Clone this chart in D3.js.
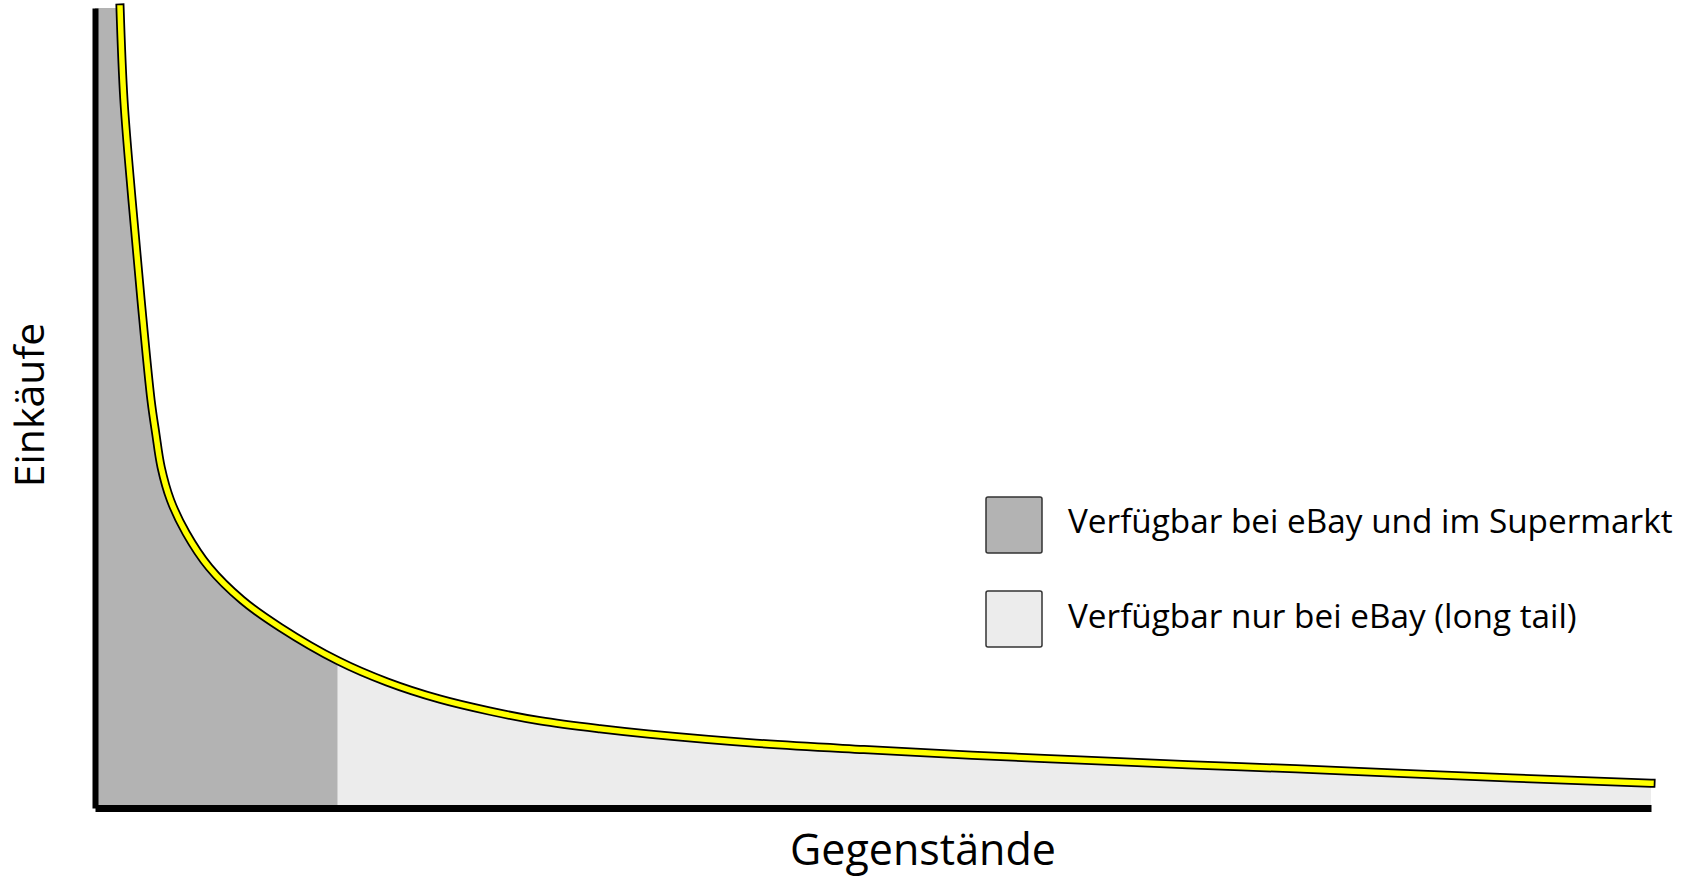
<!DOCTYPE html>
<html lang="de">
<head>
    <meta charset="UTF-8">
    <title>Long Tail – Einkäufe und Gegenstände</title>
    <script src="https://d3js.org/d3.v7.min.js"></script>
    <style>
        body { margin: 0; background: #fff; }
        svg { display: block; }
        text {
            font-family: "Open Sans", "Noto Sans", sans-serif;
            fill: #000;
        }
        .axis path { stroke: #000; }
        .legend text { font-size: 33.3px; }
    </style>
</head>
<body>
    <script>
        const width = 1694;
        const height = 877;

        // curve: items (0-100) vs purchases (0-100)
        const items     = [1.61, 1.86, 2.38, 2.96, 3.6, 3.9, 4.25, 4.85, 5.85, 7.33, 9.45, 11.89, 15.62, 18.77, 22.17, 25.39, 28.6, 32.45, 35.54, 42.48, 49.42, 56.36, 63.3, 70.24, 77.19, 84.13, 91.07, 100];
        const purchases = [100, 88.5, 76, 63.5, 51, 46.9, 42.6, 38.5, 34.4, 30.1, 26, 22.6, 18.4, 15.75, 13.6, 12.1, 10.9, 9.9, 9.25, 8.1, 7.3, 6.6, 6.0, 5.4, 4.9, 4.3, 3.75, 3.1];
        const splitAt = 15.6;   // end of the "head"

        const legendLabels = ["Verfügbar bei eBay und im Supermarkt", "Verfügbar nur bei eBay (long tail)"];
        const legendColors = ["#b3b3b3", "#ececec"];

        const points = items.map((d, i) => ({x: d, y: purchases[i]}));

        const x = d3.scaleLinear().domain([0, 100]).range([95, 1651]);
        const y = d3.scaleLinear().domain([0, 100]).range([808, 8]);

        const svg = d3.select("body").append("svg")
            .attr("width", width)
            .attr("height", height);

        const defs = svg.append("defs");
        defs.append("clipPath").attr("id", "head")
            .append("rect")
            .attr("x", x(0)).attr("y", 0)
            .attr("width", x(splitAt) - x(0)).attr("height", y(0));
        defs.append("clipPath").attr("id", "tail")
            .append("rect")
            .attr("x", x(splitAt)).attr("y", 0)
            .attr("width", x(100) - x(splitAt)).attr("height", y(0));

        const line = d3.line()
            .x(d => x(d.x))
            .y(d => y(d.y))
            .curve(d3.curveCatmullRom.alpha(0.5));

        // fill under the curve, closed along the axes
        const areaPath = line(points) +
            `L${x(100)},${y(0)}L${x(0)},${y(0)}L${x(0)},${y(100)}Z`;

        svg.append("path")
            .attr("d", areaPath)
            .attr("fill", legendColors[0])
            .attr("clip-path", "url(#head)");
        svg.append("path")
            .attr("d", areaPath)
            .attr("fill", legendColors[1])
            .attr("clip-path", "url(#tail)");

        // axes without ticks
        svg.append("g")
            .attr("class", "axis")
            .attr("transform", `translate(0,${y(0)})`)
            .call(d3.axisBottom(x).ticks(0).tickSizeOuter(0))
            .select(".domain")
            .attr("stroke-width", 7);
        svg.append("g")
            .attr("class", "axis")
            .attr("transform", `translate(${x(0)},0)`)
            .call(d3.axisLeft(y).ticks(0).tickSizeOuter(0))
            .select(".domain")
            .attr("stroke-width", 6);

        // yellow curve with black outline
        svg.append("path")
            .datum(points)
            .attr("d", line)
            .attr("fill", "none")
            .attr("stroke", "#000")
            .attr("stroke-width", 9)
            .attr("stroke-linecap", "square");
        svg.append("path")
            .datum(points)
            .attr("d", line)
            .attr("fill", "none")
            .attr("stroke", "#ffff00")
            .attr("stroke-width", 5.5)
            .attr("stroke-linecap", "square");

        // axis titles
        svg.append("text")
            .attr("x", 923)
            .attr("y", 865)
            .attr("text-anchor", "middle")
            .attr("font-size", 43)
            .text("Gegenstände");

        svg.append("text")
            .attr("transform", "translate(44,405) rotate(-90)")
            .attr("text-anchor", "middle")
            .attr("font-size", 41)
            .text("Einkäufe");

        // legend
        const legend = svg.append("g")
            .attr("class", "legend")
            .attr("transform", "translate(986,497)");

        legend.selectAll("rect")
            .data(legendLabels)
            .enter().append("rect")
            .attr("x", 0)
            .attr("y", (d, i) => i * 94)
            .attr("width", 56)
            .attr("height", 56)
            .attr("rx", 2)
            .attr("fill", (d, i) => legendColors[i])
            .attr("stroke", "#333")
            .attr("stroke-width", 1.5);

        legend.selectAll("text")
            .data(legendLabels)
            .enter().append("text")
            .attr("x", 82)
            .attr("y", (d, i) => 36 + i * 95)
            .text(d => d);
    </script>
</body>
</html>
